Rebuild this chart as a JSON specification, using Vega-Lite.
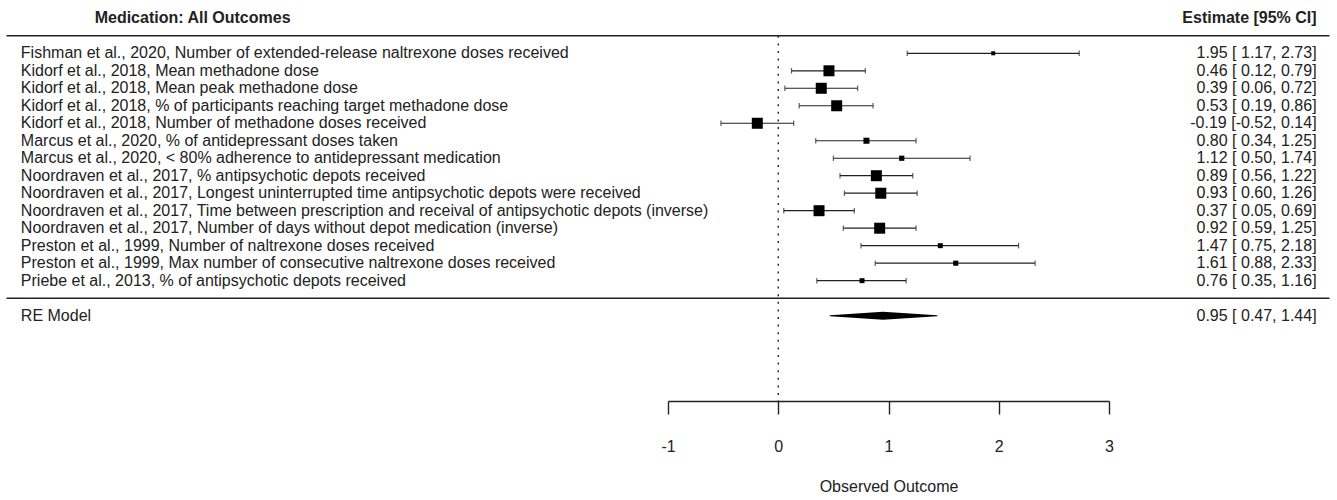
{
  "$schema": "https://vega.github.io/schema/vega-lite/v6.json",
  "autosize": {"type": "none"},
  "padding": {"left": 668, "right": 228, "top": 0, "bottom": 99},
  "width": 441,
  "height": 401,
  "background": "white",
  "config": {
    "view": {"stroke": null},
    "font": "Liberation Sans",
    "text": {"font": "Liberation Sans", "fontSize": 16, "color": "#222"}
  },
  "datasets": {
    "studies": [
      {"study": "Fishman et al., 2020, Number of extended-release naltrexone doses received", "estimate": 1.95, "ci_lb": 1.17, "ci_ub": 2.73, "weight": 3.4, "label": "1.95 [ 1.17, 2.73]"},
      {"study": "Kidorf et al., 2018, Mean methadone dose", "estimate": 0.46, "ci_lb": 0.12, "ci_ub": 0.79, "weight": 9.3, "label": "0.46 [ 0.12, 0.79]"},
      {"study": "Kidorf et al., 2018, Mean peak methadone dose", "estimate": 0.39, "ci_lb": 0.06, "ci_ub": 0.72, "weight": 9.3, "label": "0.39 [ 0.06, 0.72]"},
      {"study": "Kidorf et al., 2018, % of participants reaching target methadone dose", "estimate": 0.53, "ci_lb": 0.19, "ci_ub": 0.86, "weight": 9.3, "label": "0.53 [ 0.19, 0.86]"},
      {"study": "Kidorf et al., 2018, Number of methadone doses received", "estimate": -0.19, "ci_lb": -0.52, "ci_ub": 0.14, "weight": 9.3, "label": "-0.19 [-0.52, 0.14]"},
      {"study": "Marcus et al., 2020, % of antidepressant doses taken", "estimate": 0.80, "ci_lb": 0.34, "ci_ub": 1.25, "weight": 5.1, "label": "0.80 [ 0.34, 1.25]"},
      {"study": "Marcus et al., 2020, < 80% adherence to antidepressant medication", "estimate": 1.12, "ci_lb": 0.50, "ci_ub": 1.74, "weight": 4.4, "label": "1.12 [ 0.50, 1.74]"},
      {"study": "Noordraven et al., 2017, % antipsychotic depots received", "estimate": 0.89, "ci_lb": 0.56, "ci_ub": 1.22, "weight": 9.3, "label": "0.89 [ 0.56, 1.22]"},
      {"study": "Noordraven et al., 2017, Longest uninterrupted time antipsychotic depots were received", "estimate": 0.93, "ci_lb": 0.60, "ci_ub": 1.26, "weight": 9.3, "label": "0.93 [ 0.60, 1.26]"},
      {"study": "Noordraven et al., 2017, Time between prescription and receival of antipsychotic depots (inverse)", "estimate": 0.37, "ci_lb": 0.05, "ci_ub": 0.69, "weight": 9.3, "label": "0.37 [ 0.05, 0.69]"},
      {"study": "Noordraven et al., 2017, Number of days without depot medication (inverse)", "estimate": 0.92, "ci_lb": 0.59, "ci_ub": 1.25, "weight": 9.3, "label": "0.92 [ 0.59, 1.25]"},
      {"study": "Preston et al., 1999, Number of naltrexone doses received", "estimate": 1.47, "ci_lb": 0.75, "ci_ub": 2.18, "weight": 4.2, "label": "1.47 [ 0.75, 2.18]"},
      {"study": "Preston et al., 1999, Max number of consecutive naltrexone doses received", "estimate": 1.61, "ci_lb": 0.88, "ci_ub": 2.33, "weight": 4.3, "label": "1.61 [ 0.88, 2.33]"},
      {"study": "Priebe et al., 2013, % of antipsychotic depots received", "estimate": 0.76, "ci_lb": 0.35, "ci_ub": 1.16, "weight": 4.2, "label": "0.76 [ 0.35, 1.16]"}
    ],
    "re": [
      {"study": "RE Model", "estimate": 0.95, "ci_lb": 0.47, "ci_ub": 1.44, "label": "0.95 [ 0.47, 1.44]"}
    ],
    "headers": [
      {"left": "Medication: All Outcomes", "right": "Estimate [95% CI]"}
    ]
  },
  "layer": [
    {
      "data": {"name": "headers"},
      "mark": {"type": "rule", "color": "#222", "strokeWidth": 1.5},
      "encoding": {
        "x": {
          "datum": -7,
          "type": "quantitative",
          "scale": {"domain": [-1, 3], "nice": false, "zero": false},
          "axis": {
            "values": [-1, 0, 1, 2, 3],
            "labelExpr": "'' + datum.value",
            "title": "Observed Outcome",
            "grid": false,
            "domainColor": "#222",
            "domainWidth": 1.4,
            "tickColor": "#222",
            "tickWidth": 1.4,
            "tickSize": 13,
            "labelFont": "Liberation Sans",
            "labelFontSize": 16,
            "labelColor": "#222",
            "labelPadding": 24,
            "labelFlush": false,
            "labelBound": false,
            "titleFont": "Liberation Sans",
            "titleFontSize": 16,
            "titleFontWeight": "normal",
            "titleColor": "#222",
            "titlePadding": 24
          }
        },
        "x2": {"datum": 5},
        "y": {
          "datum": 0,
          "type": "quantitative",
          "scale": {"domain": [-2.047, 20.88], "reverse": true, "nice": false, "zero": false},
          "axis": null
        }
      }
    },
    {
      "data": {"name": "headers"},
      "mark": {"type": "rule", "color": "#222", "strokeWidth": 1.5},
      "encoding": {"x": {"datum": -7}, "x2": {"datum": 5}, "y": {"datum": 15}}
    },
    {
      "data": {"name": "headers"},
      "mark": {"type": "rule", "color": "#222", "strokeWidth": 1.4, "strokeDash": [2, 5.6]},
      "encoding": {"x": {"datum": 0}, "y": {"datum": 0}, "y2": {"datum": 20.88}}
    },
    {
      "data": {"name": "studies"},
      "transform": [{"window": [{"op": "row_number", "as": "row"}]}],
      "layer": [
        {
          "mark": {"type": "rule", "color": "#222", "strokeWidth": 1.2},
          "encoding": {
            "x": {"field": "ci_lb", "type": "quantitative"},
            "x2": {"field": "ci_ub"},
            "y": {"field": "row", "type": "quantitative"}
          }
        },
        {
          "mark": {"type": "tick", "orient": "vertical", "color": "#222", "thickness": 1.2, "size": 5.5},
          "encoding": {
            "x": {"field": "ci_lb", "type": "quantitative"},
            "y": {"field": "row", "type": "quantitative"}
          }
        },
        {
          "mark": {"type": "tick", "orient": "vertical", "color": "#222", "thickness": 1.2, "size": 5.5},
          "encoding": {
            "x": {"field": "ci_ub", "type": "quantitative"},
            "y": {"field": "row", "type": "quantitative"}
          }
        },
        {
          "mark": {"type": "point", "shape": "square", "filled": true, "color": "black", "opacity": 1},
          "encoding": {
            "x": {"field": "estimate", "type": "quantitative"},
            "y": {"field": "row", "type": "quantitative"},
            "size": {
              "field": "weight",
              "type": "quantitative",
              "scale": {"type": "pow", "exponent": 2, "domain": [0, 9.3], "range": [0, 121]},
              "legend": null
            }
          }
        },
        {
          "mark": {"type": "text", "align": "left", "baseline": "middle"},
          "encoding": {
            "x": {"datum": -6.87},
            "y": {"field": "row", "type": "quantitative"},
            "text": {"field": "study"}
          }
        },
        {
          "mark": {"type": "text", "align": "right", "baseline": "middle"},
          "encoding": {
            "x": {"datum": 4.883},
            "y": {"field": "row", "type": "quantitative"},
            "text": {"field": "label"}
          }
        }
      ]
    },
    {
      "data": {"name": "re"},
      "mark": {"type": "text", "align": "left", "baseline": "middle"},
      "encoding": {"x": {"datum": -6.87}, "y": {"datum": 16}, "text": {"field": "study"}}
    },
    {
      "data": {"name": "re"},
      "mark": {"type": "text", "align": "right", "baseline": "middle"},
      "encoding": {"x": {"datum": 4.883}, "y": {"datum": 16}, "text": {"field": "label"}}
    },
    {
      "data": {"name": "re"},
      "transform": [{"fold": ["ci_lb", "estimate", "ci_ub"], "as": ["k", "v"]}],
      "mark": {"type": "trail", "color": "black"},
      "encoding": {
        "x": {"field": "v", "type": "quantitative"},
        "y": {"datum": 16},
        "order": {"field": "v", "type": "quantitative"},
        "size": {"condition": {"test": "datum.k === 'estimate'", "value": 8}, "value": 0}
      }
    },
    {
      "data": {"name": "headers"},
      "mark": {"type": "text", "align": "center", "baseline": "middle", "fontWeight": "bold"},
      "encoding": {"x": {"datum": -5.312}, "y": {"datum": -1}, "text": {"field": "left"}}
    },
    {
      "data": {"name": "headers"},
      "mark": {"type": "text", "align": "right", "baseline": "middle", "fontWeight": "bold"},
      "encoding": {"x": {"datum": 4.883}, "y": {"datum": -1}, "text": {"field": "right"}}
    }
  ]
}
